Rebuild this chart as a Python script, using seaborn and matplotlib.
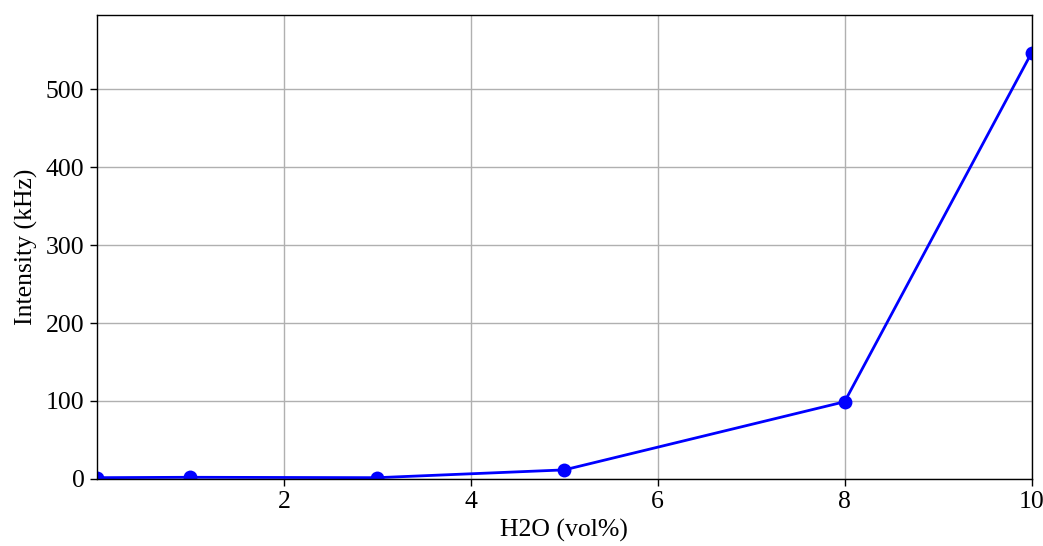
import matplotlib
matplotlib.use("Agg")
import matplotlib.pyplot as plt
import seaborn as sns
import pandas as pd

h2o = [0, 1, 3, 5, 8, 10]
intensity = [1.5, 2.0, 1.5, 11.5, 99, 547]
x_ticks = [2, 4, 6, 8, 10]
y_ticks = [0, 100, 200, 300, 400, 500]

sns.set_style("whitegrid")
plt.rcParams['font.family'] = ['Liberation Serif', 'DejaVu Serif']
plt.rcParams['text.color'] = 'black'
plt.rcParams['axes.labelcolor'] = 'black'
plt.rcParams['xtick.color'] = 'black'
plt.rcParams['ytick.color'] = 'black'

df = pd.DataFrame({"h2o": h2o, "intensity": intensity})
fig = plt.figure(figsize=(10.43, 5.46), dpi=100)
ax = fig.add_axes([0.093, 0.123, 0.896, 0.850])
sns.lineplot(data=df, x="h2o", y="intensity", color="blue", marker="o",
             markersize=10, markeredgewidth=0, linewidth=2.0, ax=ax)
ax.set_xlim(0, 10)
ax.set_ylim(0, 596)
ax.set_xticks(x_ticks)
ax.set_yticks(y_ticks)
ax.grid(True, color="#b0b0b0", linewidth=1.0)
for s in ax.spines.values():
    s.set_color("black")
    s.set_linewidth(1.0)
ax.tick_params(axis="both", labelsize=18.5, length=5, width=1, color="black", labelcolor="black",
               direction="out", bottom=True, left=True, pad=4)
ax.set_xlabel("H2O (vol%)", fontsize=18.5, labelpad=4)
ax.set_ylabel("Intensity (kHz)", fontsize=18.5, labelpad=6)
fig.savefig("out.png", dpi=100)
